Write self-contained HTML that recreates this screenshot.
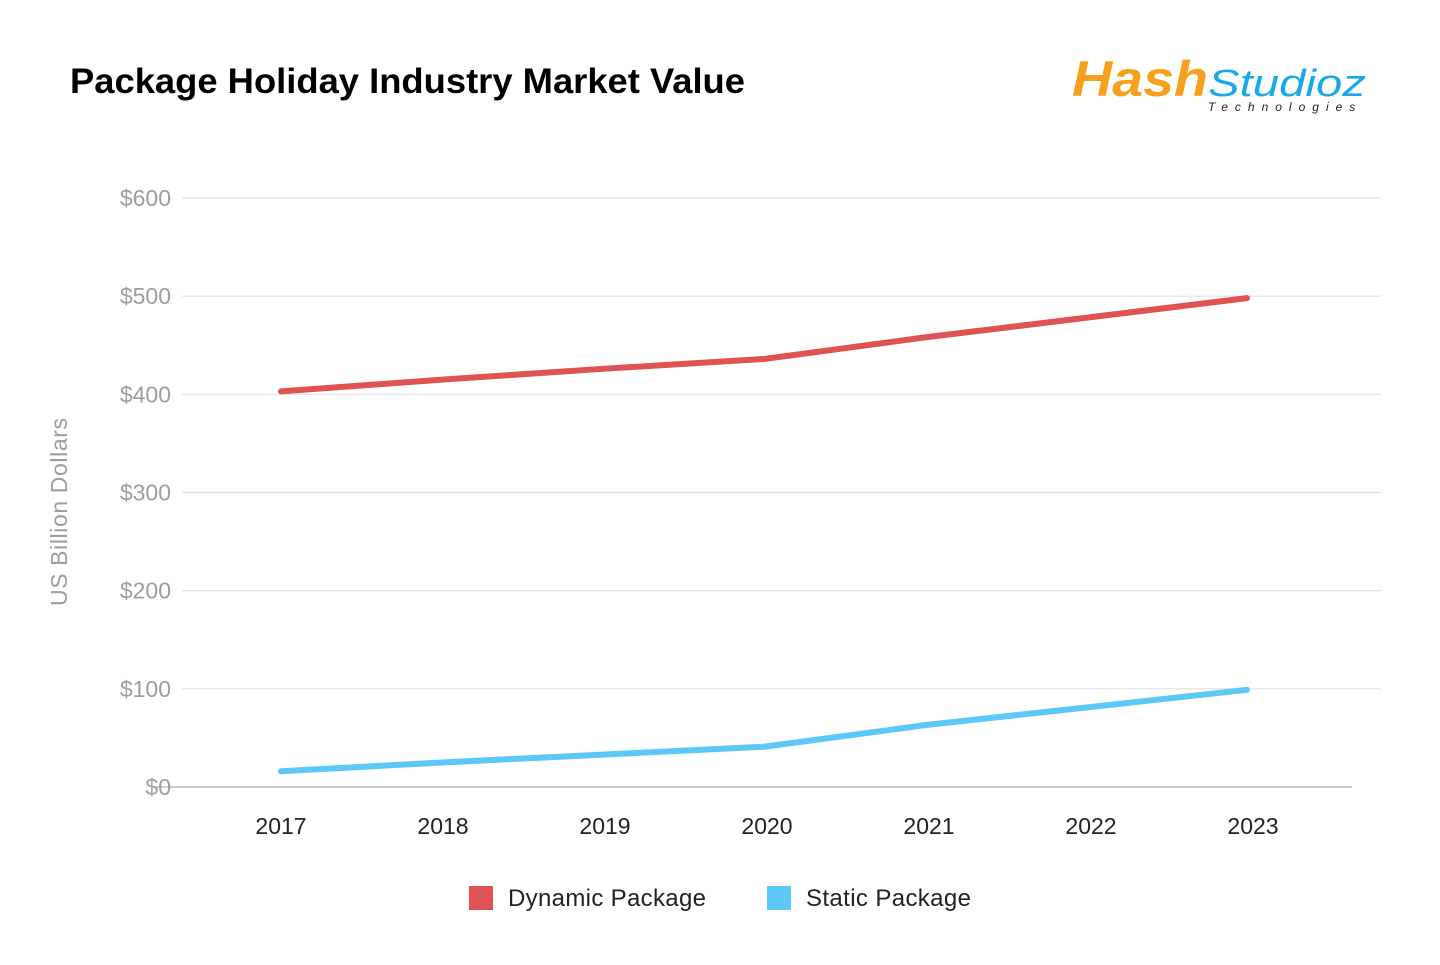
<!DOCTYPE html>
<html><head><meta charset="utf-8"><style>
body{margin:0;background:#fff;width:1440px;height:960px;overflow:hidden;font-family:"Liberation Sans",sans-serif}
</style></head><body>
<svg width="1440" height="960">
<text x="70" y="93" font-size="35" font-weight="bold" fill="#000" textLength="675" lengthAdjust="spacingAndGlyphs" font-family="Liberation Sans">Package Holiday Industry Market Value</text>
<g font-style="italic" font-family="Liberation Sans">
<text x="1072" y="96" font-size="50" font-weight="bold" fill="#f7a01d" textLength="136" lengthAdjust="spacingAndGlyphs">Hash</text>
<text x="1208" y="96" font-size="38" fill="#1aa9e8" textLength="158" lengthAdjust="spacingAndGlyphs">Studioz</text>
<text x="1208" y="111" font-size="12" fill="#222" letter-spacing="7">Technologies</text>
</g>
<text transform="translate(67,512) rotate(-90)" text-anchor="middle" font-size="23" fill="#9e9e9e" textLength="188">US Billion Dollars</text>
<g id="grid"></g><g id="ylab"></g><g id="xlab"></g><g id="series"></g>
<g>
<rect x="469" y="886" width="24" height="24" fill="#e05353"/>
<text x="508" y="906" font-size="24" fill="#222" textLength="198">Dynamic Package</text>
<rect x="767" y="886" width="24" height="24" fill="#5bc8f5"/>
<text x="806" y="906" font-size="24" fill="#222" textLength="165">Static Package</text>
</g>
</svg>
<script>
const categories=["2017","2018","2019","2020","2021","2022","2023"];
const dynamicValues=[403,415,426,436,458,478,498];
const staticValues=[16,25,33,41,63,81,99];
const yTicks=[0,100,200,300,400,500,600];
const yTickLabels=["$0","$100","$200","$300","$400","$500","$600"];
const NS="http://www.w3.org/2000/svg";
function y(v){return 787-v*(589/600);}
function x(i){return 281+i*161;}
function xl(i){return 281+i*162;}
function mk(t,a,p){const e=document.createElementNS(NS,t);for(const k in a)e.setAttribute(k,a[k]);document.getElementById(p).appendChild(e);return e;}
yTicks.forEach((v,i)=>{
 const l=mk("line",{x1:v===0?155:182,x2:v===0?1352:1381,y1:y(v),y2:y(v),stroke:v===0?"#bdbdbd":"#e0e0e0","stroke-width":v===0?1.5:1.2},"grid");
 
 
 const t=mk("text",{x:171,y:y(v)+8,"text-anchor":"end","font-size":23,fill:"#9e9e9e"},"ylab");
 t.textContent=yTickLabels[i];
 
 
});
categories.forEach((c,i)=>{
 const t=mk("text",{x:xl(i),y:834,"text-anchor":"middle","font-size":23,fill:"#222"},"xlab");
 t.textContent=c;
 
 
});
function line(vals,color,name){
 const p=mk("polyline",{points:vals.map((v,i)=>x(i)+","+y(v)).join(" "),fill:"none",stroke:color,"stroke-width":6,"stroke-linecap":"round","stroke-linejoin":"round"},"series");
 
 
}
line(dynamicValues,"#e05353","dynamic-package-line");
line(staticValues,"#5bc8f5","static-package-line");
</script>
</body></html>
